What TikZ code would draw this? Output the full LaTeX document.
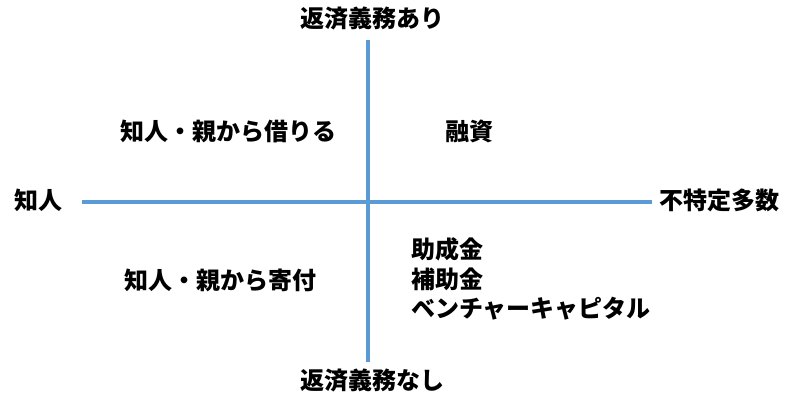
\documentclass[tikz,border=0pt]{standalone}
\usepackage{fontspec}
\newfontfamily\cjk{Noto Sans CJK JP}
\usepackage{tikz}
\definecolor{axisblue}{HTML}{5B9BD5}

\begin{document}
\begin{tikzpicture}[x=1pt,y=-1pt]
    \tikzstyle{t}=[font=\cjk\bfseries\fontsize{24}{28}\selectfont, inner sep=0pt]
    \tikzstyle{ax}=[draw=axisblue, line width=3.5pt]
    \useasboundingbox (0,0) rectangle (791,412);
    \coordinate (top) at (368,40);
    \coordinate (bottom) at (368,362);
    \coordinate (left) at (82,202);
    \coordinate (right) at (652,202);
    \draw[ax] (top) -- (bottom);
    \draw[ax] (left) -- (right);
    \node[t] (yes) at (372,18) {返済義務あり};
    \node[t] (no) at (372,380) {返済義務なし};
    \node[t, anchor=west] (friend) at (14,200) {知人};
    \node[t, anchor=west] (many) at (659,200) {不特定多数};
    \node[t] (borrow) at (228,131) {知人・親から借りる};
    \node[t] (loan) at (469,131) {融資};
    \node[t] (gift) at (220,280) {知人・親から寄付};
    \node[t, anchor=west] (grant) at (411,249) {助成金};
    \node[t, anchor=west] (subsidy) at (411,279) {補助金};
    \node[t, anchor=west] (vc) at (411,309) {ベンチャーキャピタル};
\end{tikzpicture}
\end{document}
